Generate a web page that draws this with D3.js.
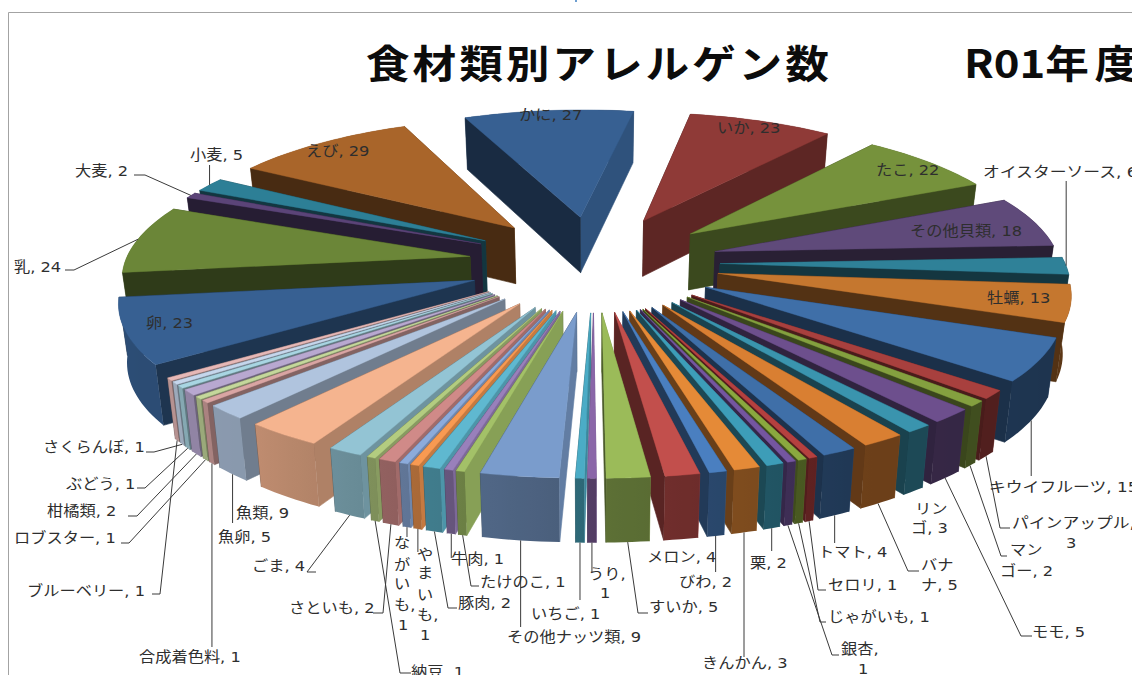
<!DOCTYPE html>
<html><head><meta charset="utf-8">
<style>html,body{margin:0;padding:0;background:#fff;overflow:hidden}svg{display:block}</style>
<script src="https://cdnjs.cloudflare.com/ajax/libs/d3/7.8.5/d3.min.js"></script>
</head><body><svg id="c" width="1132" height="675"></svg>
<script>
const categories=["かに","いか","たこ","その他貝類","オイスターソース","牡蠣","キウイフルーツ","パインアップル","マンゴー","モモ","リンゴ","バナナ","トマト","セロリ","じゃがいも","銀杏","栗","きんかん","びわ","メロン","すいか","うり","いちご","その他ナッツ類","たけのこ","牛肉","豚肉","やまいも","ながいも","さといも","納豆","ごま","魚類","魚卵","合成着色料","ロブスター","柑橘類","ぶどう","さくらんぼ","ブルーベリー","卵","乳","大麦","小麦","えび"];
const values=[27,23,22,18,6,13,15,3,2,5,3,5,4,1,1,1,2,3,2,4,5,1,1,9,1,1,2,1,1,2,1,4,9,5,1,1,2,1,1,1,23,24,2,5,29];
const colors=["#376092","#8f3a37","#76923c","#5f4a7a","#2f8198","#c5772f","#3f6fa8","#a8403e","#84a03f","#6d4f8d","#3a94ae","#d97f32","#3f6fa8","#b5403f","#8aa83f","#7456a0","#3d9db8","#e58a37","#4a7fc0","#c24f4c","#9bbb59","#8a66a8","#4bacc6","#7a9ccc","#a3c168","#9980bb","#5fb8d0","#f89a52","#8cabdb","#d08a88","#b3cc80","#93c4d4","#f5b48f","#b0c4de","#d9a5a3","#c4d79b","#b8a8d0","#a8d5e2","#c5d6ec","#e6b8b7","#376092","#6b8638","#5b4478","#2d7f96","#a9652a"];
const titleLeft="食材類別アレルゲン数", titleCode="R01", titleYear="年度";

// label layout: lines of text as [x, centre y], in the same order as categories
const labelLines=[
 [["かに, 27",519,115]],[["いか, 23",717,128]],[["たこ, 22",876,170]],[["その他貝類, 18",910,231]],
 [["オイスターソース, 6",983,172]],[["牡蠣, 13",987,298]],[["キウイフルーツ, 15",989,487]],
 [["パインアップル,",1012,523],["3",1066,543]],[["マン",1010,550],["ゴー, 2",1000,571]],[["モモ, 5",1032,632]],
 [["リン",915,509],["ゴ, 3",911,528]],[["バナ",921,565],["ナ, 5",921,585]],[["トマト, 4",818,552]],[["セロリ, 1",828,585]],
 [["じゃがいも, 1",828,617]],[["銀杏,",841,649],["1",858,669]],[["栗, 2",750,563]],[["きんかん, 3",702,663]],
 [["びわ, 2",679,582]],[["メロン, 4",647,557]],[["すいか, 5",649,607]],[["うり,",588,574],["1",600,593]],
 [["いちご, 1",531,614]],[["その他ナッツ類, 9",507,637]],[["たけのこ, 1",480,582]],[["牛肉, 1",451,559]],[["豚肉, 2",458,603]],
 [["や",417,555],["ま",417,573],["い",417,595],["も,",417,615],["1",420,635]],
 [["な",394,543],["が",394,565],["い",394,584],["も,",394,605],["1",398,625]],
 [["さといも, 2",289,608]],[["納豆, 1",411,672]],[["ごま, 4",252,566]],[["魚類, 9",236,513]],[["魚卵, 5",218,537]],
 [["合成着色料, 1",139,657]],[["ロブスター, 1",14,538]],[["柑橘類, 2",47,511]],[["ぶどう, 1",66,484]],[["さくらんぼ, 1",43,447]],
 [["ブルーベリー, 1",27,591]],[["卵, 23",146,323]],[["乳, 24",14,267]],[["大麦, 2",75,171]],[["小麦, 5",190,155]],[["えび, 29",306,151]]
];
const wideLabels=["オイスターソース, 6","キウイフルーツ, 15","パインアップル,"];
// leader layout: points from the label towards the slice; the last point comes from the projection.
// a null x means "directly below/above the slice point"
const leaderPaths={
 "乳":[[65,270],[74,270]],"大麦":[[134,175],[145,175]],"小麦":[[null,165]],"オイスターソース":[[null,181]],
 "キウイフルーツ":[[null,476]],"パインアップル":[[1010,528],[1000,528]],"マンゴー":[[1007,556],[1001,556]],"モモ":[[1032,636],[1021,636]],
 "バナナ":[[919,571],[908,571]],"トマト":[[null,543]],"セロリ":[[826,590],[818,590]],"じゃがいも":[[826,622],[820,622]],"銀杏":[[839,655],[832,655]],
 "栗":[[null,551]],"きんかん":[[null,657]],"びわ":[[null,572]],"すいか":[[648,613],[638,613]],"うり":[[null,572]],"いちご":[[null,600]],
 "その他ナッツ類":[[null,627]],"たけのこ":[[479,586],[471,586]],"牛肉":[[null,558]],"豚肉":[[457,608],[448,608]],"やまいも":[[null,552]],"ながいも":[[null,537]],
 "納豆":[[411,673],[400,673]],"さといも":[[373,613],[383,613]],"ごま":[[316,572],[307,572]],"魚卵":[[null,523]],"合成着色料":[[null,647]],
 "ロブスター":[[121,543],[129,543]],"柑橘類":[[128,516],[137,516]],"ぶどう":[[137,488],[145,488]],"さくらんぼ":[[146,452],[154,452]],"ブルーベリー":[[152,594],[160,594]]
};

const svg=d3.select("#c");
const defs=svg.append("defs");
const EXPLODE=0.365, CX=594, CXT=1.2, SX=345, PC=0.124, PA=-98.6, PB=262.8, LOWER=0.982;
const depth=Y=>PC*Y+1;
const wallH=Y=>57*Math.pow(depth(Y),-0.65);
const project=(X,Y,lower)=>{
  const dx=SX*X/depth(Y);
  return [CX+CXT*Y+dx*(lower?LOWER:1),(PA*Y+PB)/depth(Y)+(lower?wallH(Y):0)];
};

const deg=Math.PI/180;
const pie=d3.pie().sort(null).value(d=>d).startAngle(-23.3*deg).endAngle(336.7*deg);
const arcs=pie(values).map((a,i)=>{
  const m=(a.startAngle+a.endAngle)/2;
  return {i,name:categories[i],color:colors[i],s:a.startAngle,e:a.endAngle,m,ax:EXPLODE*Math.sin(m),ay:EXPLODE*Math.cos(m)};
});
const line=d3.line().curve(d3.curveLinear);
const norm=a=>((a/deg)%360+360)%360;
const cutShade=d3.scaleLinear().domain([0,60,100,128,150,180,200,240,283,360]).range([.5,.6,.85,.65,.52,.42,.42,.45,.47,.5]);
const wallShade=d3.scaleLinear().domain([0,60,105,150,180,220,270,360]).range([.6,.55,.46,.5,.6,.78,.82,.7]);
const tone=(c,f)=>{const r=d3.rgb(c);return d3.rgb(r.r*f,r.g*f,r.b*f).formatHex();};

function rim(a,t){return [a.ax+Math.sin(t),a.ay+Math.cos(t)];}
function facesOf(a){
  const faces=[];
  const side=(t,nrm)=>{
    const p=rim(a,t);
    const f=tone(a.color,cutShade(norm(nrm)));
    faces.push({d:(p[1]+a.ay)/2,fill:f,stroke:f,pts:[project(a.ax,a.ay),project(p[0],p[1]),project(p[0],p[1],true),project(a.ax,a.ay,true)]});
  };
  side(a.s,a.s-Math.PI/2);
  side(a.e,a.e+Math.PI/2);
  // the outer wall is one polygon whose shade runs across a gradient
  const n=Math.max(1,Math.ceil((a.e-a.s)/(1.5*deg)));
  const ts=d3.range(n+1).map(k=>a.s+(a.e-a.s)*k/n);
  const upper=ts.map(t=>{const p=rim(a,t);return project(p[0],p[1]);});
  const lowerPts=ts.map(t=>{const p=rim(a,t);return project(p[0],p[1],true);});
  const x0=d3.min(upper,p=>p[0]),x1=d3.max(upper,p=>p[0]);
  const id="w"+a.i;
  const g=defs.append("linearGradient").attr("id",id).attr("gradientUnits","userSpaceOnUse")
    .attr("x1",x0).attr("x2",Math.max(x1,x0+1)).attr("y1",0).attr("y2",0);
  const stops=ts.map((t,k)=>({o:(upper[k][0]-x0)/Math.max(x1-x0,1),c:tone(a.color,wallShade(norm(t)))})).sort((p,q)=>p.o-q.o);
  g.selectAll("stop").data(stops).join("stop").attr("offset",s=>s.o).attr("stop-color",s=>s.c);
  const midY=rim(a,a.m)[1];
  faces.push({d:midY,fill:`url(#${id})`,stroke:"none",pts:upper.concat(lowerPts.slice().reverse())});
  return faces.sort((x,y)=>y.d-x.d);
}
function topOf(a){
  const pts=[project(a.ax,a.ay)];
  const n=Math.max(1,Math.ceil((a.e-a.s)/(1.5*deg)));
  d3.range(n+1).forEach(k=>{const p=rim(a,a.s+(a.e-a.s)*k/n);pts.push(project(p[0],p[1]));});
  return pts;
}

svg.append("rect").attr("width",1132).attr("height",675).attr("fill","#fff");
svg.append("path").attr("d","M8.5,675V12.5H1132").attr("fill","none").attr("stroke","#a3a3a3").attr("stroke-width",1);
svg.append("rect").attr("x",575).attr("y",0).attr("width",2).attr("height",2).attr("fill","#6d9ed0");

const order=arcs.slice().sort((p,q)=>Math.cos(q.m)-Math.cos(p.m));
const gS=svg.append("g");
order.forEach(a=>{
  const g=gS.append("g");
  g.selectAll("path.f").data(facesOf(a)).join("path").attr("class","f")
    .attr("d",f=>line(f.pts)+"Z").attr("fill",f=>f.fill).attr("stroke",f=>f.stroke).attr("stroke-width",.6).attr("stroke-linejoin","round");
  g.append("path").attr("d",line(topOf(a))+"Z").attr("fill",a.color).attr("stroke",a.color).attr("stroke-width",.4);
});

// leaders
const gL=svg.append("g");
arcs.forEach(a=>{
  const path=leaderPaths[a.name]; if(!path) return;
  const p=rim(a,a.m), north=Math.cos(a.m)>-0.1;
  const tip=project(p[0],p[1],!north);
  const pts=path.map(q=>[q[0]===null?tip[0]:q[0],q[1]]).concat([tip]);
  gL.append("path").attr("d",line(pts)).attr("fill","none").attr("stroke","#3a3a3a").attr("stroke-width",1);
});

// labels
const FONT='"DejaVu Sans","Noto Sans CJK JP",sans-serif';
const gT=svg.append("g").attr("font-family",FONT).attr("font-size",14.5).attr("fill","#2e2e2e");
labelLines.forEach(ls=>ls.forEach(l=>{
  const sx=wideLabels.includes(l[0])?1.16:1.12;
  gT.append("text").attr("transform",`translate(${l[1]},${l[2]+5}) scale(${sx},1)`).text(l[0]);
}));

// title
const gH=svg.append("g").attr("font-family",'"Noto Sans CJK JP",sans-serif').attr("font-size",39).attr("font-weight",700).attr("fill","#0c0c0c");
gH.append("text").attr("transform","translate(366,78) scale(1.12,1)").attr("letter-spacing",2.6).text(titleLeft);
const tr=gH.append("text").attr("transform","translate(964,78) scale(1.12,1)");
tr.append("tspan").text(titleCode);
tr.append("tspan").attr("letter-spacing",5).text(titleYear);
</script></body></html>
